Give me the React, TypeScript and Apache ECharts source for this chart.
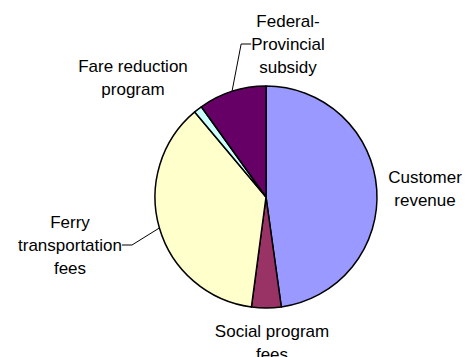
import React, { useEffect, useRef } from "react";
import * as echarts from "echarts";

const categories = [
  "Customer\nrevenue",
  "Social program\nfees",
  "Ferry\ntransportation\nfees",
  "Fare reduction\nprogram",
  "Federal-\nProvincial\nsubsidy",
];
const values = [47.8, 4.3, 36.8, 1.2, 9.9];
const colors = ["#9999FF", "#993366", "#FFFFCC", "#CCFFFF", "#660066"];
const showLeader = [false, false, true, false, true];
// label block centres (layout)
const labelPos: [number, number][] = [
  [425, 189],
  [272, 343],
  [70, 245],
  [133, 78],
  [288, 44],
];

export default function App() {
  const ref = useRef<HTMLDivElement>(null);
  useEffect(() => {
    if (!ref.current) return;
    const chart = echarts.init(ref.current, null, { renderer: "svg" });
    chart.setOption({
      animation: false,
      backgroundColor: "#ffffff",
      series: [
        {
          type: "pie",
          center: [266, 197],
          radius: 111,
          startAngle: 90,
          clockwise: true,
          avoidLabelOverlap: false,
          itemStyle: { borderColor: "#000", borderWidth: 1.5 },
          label: {
            show: true,
            position: "outside",
            color: "#000",
            fontFamily: "Liberation Sans, Arial, sans-serif",
            fontSize: 17,
            lineHeight: 23,
            align: "center",
            formatter: (p: any) => p.name,
          },
          labelLine: {
            show: true,
            length: 10,
            length2: 10,
            lineStyle: { color: "#000", width: 1 },
          },
          labelLayout: (p: any) => {
            const [x, y] = labelPos[p.dataIndex];
            return { x, y, align: "center", verticalAlign: "middle" };
          },
          data: categories.map((name, i) => ({
            name,
            value: values[i],
            itemStyle: { color: colors[i] },
            labelLine: { show: showLeader[i] },
          })),
        },
      ],
    });
    return () => chart.dispose();
  }, []);
  return (
    <div
      ref={ref}
      style={{ position: "fixed", left: 0, top: 0, width: 471, height: 357 }}
    />
  );
}
